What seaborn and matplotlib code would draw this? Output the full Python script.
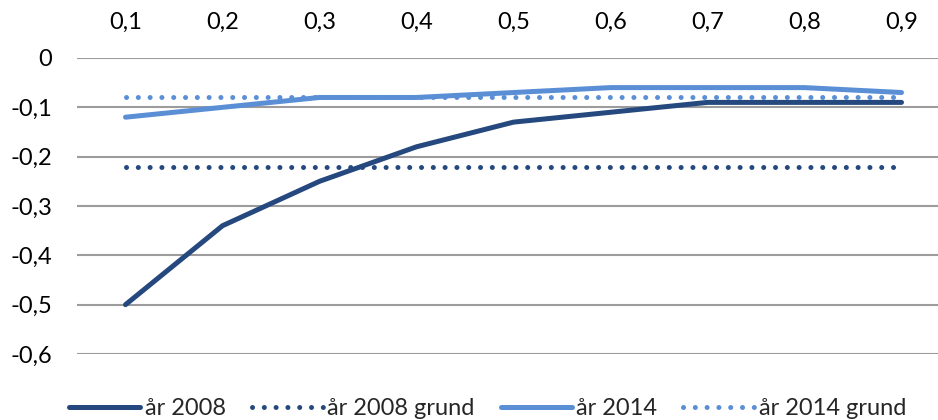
import pandas as pd
import matplotlib.pyplot as plt
import seaborn as sns

# Data
kvantil = ['0,1', '0,2', '0,3', '0,4', '0,5', '0,6', '0,7', '0,8', '0,9']
ar_2008 = [-0.50, -0.34, -0.25, -0.18, -0.13, -0.11, -0.09, -0.09, -0.09]
ar_2008_grund = [-0.22] * 9
ar_2014 = [-0.12, -0.10, -0.08, -0.08, -0.07, -0.06, -0.06, -0.06, -0.07]
ar_2014_grund = [-0.08] * 9
y_ticks = [0, -0.1, -0.2, -0.3, -0.4, -0.5, -0.6]
y_labels = ['0', '-0,1', '-0,2', '-0,3', '-0,4', '-0,5', '-0,6']

dark = '#25497F'
light = '#5A8FD6'

sns.set_theme(style='white')
plt.rcParams['font.family'] = ['Lato', 'DejaVu Sans']

fig = plt.figure(figsize=(9.38, 4.2), dpi=100)
ax = fig.add_axes([77 / 938, 1 - 354 / 420, (950 - 77) / 938, (354 - 58) / 420])

df = pd.DataFrame({'kvantil': kvantil, 'år 2008': ar_2008, 'år 2008 grund': ar_2008_grund,
                   'år 2014': ar_2014, 'år 2014 grund': ar_2014_grund})

series = [('år 2008', dark, False), ('år 2008 grund', dark, True),
          ('år 2014', light, False), ('år 2014 grund', light, True)]
for name, col, dotted in series:
    sns.lineplot(data=df, x='kvantil', y=name, ax=ax, color=col, linewidth=3.6,
                 label=name, sort=False)
    line = ax.lines[-1]
    if dotted:
        line.set_linestyle((0, (0.01, 2.35)))
        line.set_dash_capstyle('round')
    else:
        line.set_solid_capstyle('round')
        line.set_solid_joinstyle('round')

ax.set_xlim(-0.5, 8.5)
ax.set_ylim(-0.6, 0)
ax.set_yticks(y_ticks)
ax.set_yticklabels(y_labels)
ax.xaxis.tick_top()
ax.set_xlabel('')
ax.set_ylabel('')
ax.tick_params(axis='x', length=0, pad=18, labelsize=17, labelcolor='black')
ax.tick_params(axis='y', length=0, pad=18, labelsize=17, labelcolor='black')
ax.yaxis.grid(True, color='#9C9C9C', linewidth=1.5)
ax.set_axisbelow(True)
for s in ax.spines.values():
    s.set_visible(False)

handles, labels = ax.get_legend_handles_labels()
ax.get_legend().remove()
fig.legend(handles, labels, loc='lower center', bbox_to_anchor=(0.52, -0.048), ncol=4,
           frameon=False, fontsize=17, handlelength=3.0, columnspacing=1.1,
           handletextpad=0.2)

fig.savefig('out.png', dpi=100)
